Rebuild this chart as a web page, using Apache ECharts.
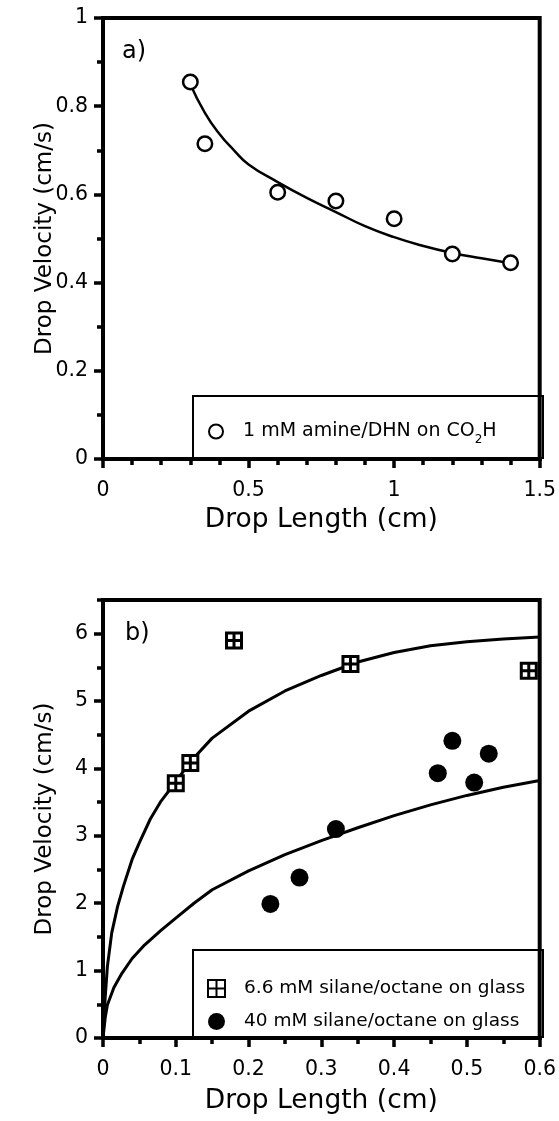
<!DOCTYPE html>
<html lang="en">
<head>
    <meta charset="UTF-8">
    <title>Drop velocity vs drop length</title>
    <script src="https://cdn.jsdelivr.net/npm/echarts/dist/echarts.min.js"></script>
    <style>
        html, body { margin: 0; padding: 0; background: #fff; }
        #chart { width: 559px; height: 1121px; }
    </style>
</head>
<body>
    <div id="chart"></div>
    <script>
        // panel a) 1 mM amine/DHN on CO2H
        var aminX = [0.3, 0.35, 0.6, 0.8, 1.0, 1.2, 1.4];
        var aminY = [0.855, 0.715, 0.605, 0.585, 0.545, 0.465, 0.445];
        var aminFitX = [0.3, 0.35, 0.4, 0.45, 0.5, 0.6, 0.7, 0.8, 0.9, 1.0, 1.1, 1.2, 1.3, 1.4];
        var aminFitY = [0.85, 0.785, 0.737, 0.70, 0.668, 0.628, 0.592, 0.56, 0.528, 0.503, 0.483, 0.467, 0.455, 0.444];

        // panel b) silane/octane on glass
        var silane66X = [0.1, 0.12, 0.18, 0.34, 0.585];
        var silane66Y = [3.78, 4.08, 5.9, 5.55, 5.45];
        var silane40X = [0.23, 0.27, 0.32, 0.46, 0.48, 0.51, 0.53];
        var silane40Y = [1.99, 2.38, 3.1, 3.93, 4.41, 3.79, 4.22];
        var fit66X = [0, 0.003, 0.006, 0.012, 0.02, 0.028, 0.04, 0.05, 0.065, 0.08, 0.1, 0.12, 0.15, 0.2, 0.25, 0.3, 0.35, 0.4, 0.45, 0.5, 0.55, 0.6];
        var fit66Y = [0, 0.6, 1.06, 1.56, 1.95, 2.25, 2.65, 2.9, 3.25, 3.52, 3.8, 4.1, 4.45, 4.85, 5.15, 5.38, 5.58, 5.72, 5.82, 5.88, 5.92, 5.95];
        var fit40X = [0, 0.003, 0.006, 0.015, 0.026, 0.04, 0.057, 0.08, 0.1, 0.125, 0.15, 0.2, 0.25, 0.3, 0.35, 0.4, 0.45, 0.5, 0.55, 0.6];
        var fit40Y = [0, 0.3, 0.49, 0.75, 0.96, 1.18, 1.38, 1.6, 1.78, 2.0, 2.2, 2.48, 2.72, 2.93, 3.12, 3.3, 3.46, 3.6, 3.72, 3.82];

        var nameA = '1 mM amine/DHN on CO2H';
        var name66 = '6.6 mM silane/octane on glass';
        var name40 = '40 mM silane/octane on glass';

        var FONT = 'DejaVu Sans';
        var squareSym = 'path://M0,0L16,0L16,16L0,16Z M8,0L8,16 M0,8L16,8';

        function pairs(xs, ys) {
            return xs.map(function (x, i) { return [x, ys[i]]; });
        }

        function valueAxis(o) {
            return Object.assign({
                type: 'value',
                nameLocation: 'middle',
                nameMoveOverlap: false,
                nameTextStyle: { color: '#000', fontFamily: FONT, fontSize: 23 },
                axisLine: { show: true, lineStyle: { color: '#000', width: 4 } },
                axisTick: { show: true, inside: false, length: 9, lineStyle: { color: '#000', width: 3.5 } },
                minorTick: { show: false },
                axisLabel: { color: '#000', fontFamily: FONT, fontSize: 20.5, margin: 15 },
                splitLine: { show: false }
            }, o);
        }

        var xName = { color: '#000', fontFamily: FONT, fontSize: 26.5 };
        var xLabel = { color: '#000', fontFamily: FONT, fontSize: 20.5, margin: 21 };

        var chart = echarts.init(document.getElementById('chart'));
        chart.setOption({
            animation: false,
            backgroundColor: '#fff',
            grid: [
                { left: 103, right: 16, top: 18, height: 441, show: true, borderColor: '#000', borderWidth: 4 },
                { left: 103, right: 16, top: 600, height: 438, show: true, borderColor: '#000', borderWidth: 4 }
            ],
            xAxis: [
                valueAxis({
                    gridIndex: 0, min: 0, max: 1.5, interval: 0.5,
                    name: 'Drop Length (cm)', nameGap: 48, nameTextStyle: xName,
                    axisLabel: xLabel,
                    minorTick: { show: true, splitNumber: 5, length: 6, lineStyle: { color: '#000', width: 3.5 } }
                }),
                valueAxis({
                    gridIndex: 1, min: 0, max: 0.6, interval: 0.1,
                    name: 'Drop Length (cm)', nameGap: 50, nameTextStyle: xName,
                    axisLabel: xLabel,
                    minorTick: { show: true, splitNumber: 2, length: 6, lineStyle: { color: '#000', width: 3.5 } }
                })
            ],
            yAxis: [
                valueAxis({
                    gridIndex: 0, min: 0, max: 1, interval: 0.2,
                    name: 'Drop Velocity (cm/s)', nameGap: 46,
                    minorTick: { show: true, splitNumber: 2, length: 6, lineStyle: { color: '#000', width: 3.5 } }
                }),
                valueAxis({
                    gridIndex: 1, min: 0, max: 6.5, interval: 1, position: 'left',
                    name: 'Drop Velocity (cm/s)', nameGap: 46,
                    axisLabel: { color: '#000', fontFamily: FONT, fontSize: 20.5, margin: 15, showMaxLabel: false }
                }),
                // half-unit ticks of panel b)
                valueAxis({
                    gridIndex: 1, min: 0, max: 6.5, interval: 0.5, position: 'left',
                    axisLine: { show: false },
                    axisTick: { show: true, length: 6, lineStyle: { color: '#000', width: 3.5 } },
                    axisLabel: { show: false }
                })
            ],
            legend: [
                {
                    data: [nameA], left: 203, top: 417,
                    itemWidth: 14, itemHeight: 14, selectedMode: false,
                    textStyle: { color: '#000', fontFamily: FONT, fontSize: 19, padding: [0, 0, 0, 15],
                        rich: { sub: { fontFamily: FONT, fontSize: 12, verticalAlign: 'bottom', lineHeight: 28, color: '#000' } } },
                    formatter: function (n) { return n === nameA ? '1 mM amine/DHN on CO{sub|2}H' : n; }
                },
                {
                    data: [name66, name40], left: 202, top: 974, orient: 'vertical', itemGap: 14,
                    itemWidth: 17, itemHeight: 17, selectedMode: false,
                    textStyle: { color: '#000', fontFamily: FONT, fontSize: 18.5, padding: [0, 0, 0, 14] }
                }
            ],
            graphic: [
                { type: 'rect', z: 3, shape: { x: 193, y: 396, width: 350, height: 62 }, style: { fill: 'none', stroke: '#000', lineWidth: 2 } },
                { type: 'rect', z: 3, shape: { x: 193, y: 950, width: 350, height: 87 }, style: { fill: 'none', stroke: '#000', lineWidth: 2 } },
                { type: 'text', z: 3, left: 122, top: 40, style: { text: 'a)', fontFamily: FONT, fontSize: 24, fill: '#000' } },
                { type: 'text', z: 3, left: 125, top: 622, style: { text: 'b)', fontFamily: FONT, fontSize: 24, fill: '#000' } }
            ],
            series: [
                {
                    name: 'fitA', type: 'line', xAxisIndex: 0, yAxisIndex: 0,
                    data: pairs(aminFitX, aminFitY), smooth: true, showSymbol: false, silent: true,
                    lineStyle: { color: '#000', width: 2.5 }, z: 2
                },
                {
                    name: nameA, type: 'scatter', xAxisIndex: 0, yAxisIndex: 0,
                    data: pairs(aminX, aminY), symbol: 'circle', symbolSize: 14.5,
                    itemStyle: { color: '#fff', borderColor: '#000', borderWidth: 2.5, opacity: 1 }, z: 4
                },
                {
                    name: 'fit66', type: 'line', xAxisIndex: 1, yAxisIndex: 1,
                    data: pairs(fit66X, fit66Y), showSymbol: false, silent: true,
                    lineStyle: { color: '#000', width: 3 }, z: 2
                },
                {
                    name: 'fit40', type: 'line', xAxisIndex: 1, yAxisIndex: 1,
                    data: pairs(fit40X, fit40Y), showSymbol: false, silent: true,
                    lineStyle: { color: '#000', width: 3 }, z: 2
                },
                {
                    name: name66, type: 'scatter', xAxisIndex: 1, yAxisIndex: 1,
                    data: pairs(silane66X, silane66Y), symbol: squareSym, symbolSize: 15,
                    itemStyle: { color: '#fff', borderColor: '#000', borderWidth: 3, opacity: 1 }, z: 4
                },
                {
                    name: name40, type: 'scatter', xAxisIndex: 1, yAxisIndex: 1,
                    data: pairs(silane40X, silane40Y), symbol: 'circle', symbolSize: 18,
                    itemStyle: { color: '#000', opacity: 1 }, z: 4
                }
            ]
        });
    </script>
</body>
</html>
